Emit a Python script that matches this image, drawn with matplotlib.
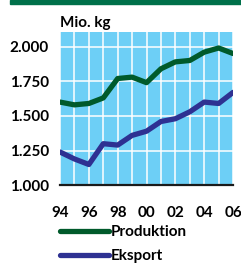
import matplotlib.pyplot as plt
from matplotlib.patches import Rectangle

years = list(range(1994, 2007))
produktion = [1.60, 1.58, 1.59, 1.63, 1.77, 1.78, 1.74, 1.84, 1.89, 1.90, 1.96, 1.99, 1.95]
eksport = [1.24, 1.19, 1.15, 1.30, 1.29, 1.36, 1.39, 1.46, 1.48, 1.53, 1.60, 1.59, 1.67]
y_ticks = [1.0, 1.25, 1.5, 1.75, 2.0]
y_labels = ['1.000', '1.250', '1.500', '1.750', '2.000']
x_labels = ['94', '', '96', '', '98', '', '00', '', '02', '', '04', '', '06']

green = '#005a2b'
blue = '#2e3192'
bg = '#6dcff6'

plt.rcParams['font.family'] = ['Lato', 'DejaVu Sans']
plt.rcParams['font.weight'] = 'bold'

fig = plt.figure(figsize=(2.41, 2.67), dpi=100)
fig.patches.append(Rectangle((0.041, 0.985), 0.959, 0.015, transform=fig.transFigure,
                             color='#00704a', zorder=0))

ax = fig.add_axes([0.249, 0.306, 0.718, 0.575])
ax.set_facecolor(bg)
ax.plot(years, produktion, color=green, lw=3.8, solid_capstyle='round',
        solid_joinstyle='round', label='Produktion', zorder=3)
ax.plot(years, eksport, color=blue, lw=3.8, solid_capstyle='round',
        solid_joinstyle='round', label='Eksport', zorder=3)

ax.set_xlim(1994, 2006)
ax.set_ylim(1.0, 2.107)
ax.set_xticks(years)
ax.set_xticklabels(x_labels)
ax.set_yticks(y_ticks)
ax.set_yticklabels(y_labels)
ax.tick_params(length=0, labelsize=11)
ax.tick_params(axis='x', pad=15)
ax.tick_params(axis='y', pad=8)
ax.grid(True, color='white', lw=1.1)
ax.set_axisbelow(True)
for s in ['top', 'left', 'right']:
    ax.spines[s].set_visible(False)
ax.spines['bottom'].set_color('#1a1a1a')
ax.spines['bottom'].set_linewidth(1.6)
ax.spines['bottom'].set_zorder(4)

ax.text(0, 1.012, 'Mio. kg', transform=ax.transAxes, fontsize=11,
        fontweight='bold', ha='left', va='bottom')

leg = ax.legend(loc='upper left', bbox_to_anchor=(-0.035, -0.222), frameon=False,
                handlelength=3.2, handletextpad=0.15, labelspacing=0.65,
                fontsize=11, borderaxespad=0)

fig.savefig('out.png', dpi=100)
